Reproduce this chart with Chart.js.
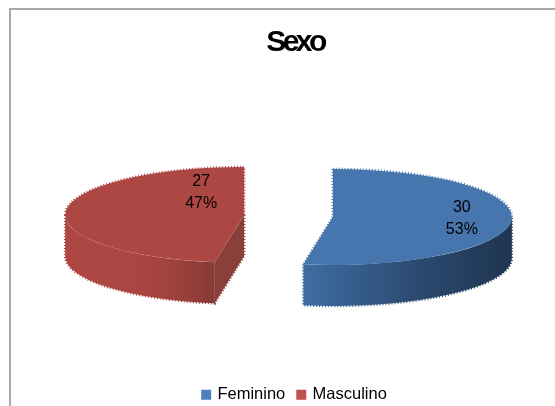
<!DOCTYPE html>
<html>
<head>
<meta charset="utf-8">
<title>Sexo</title>
<script src="https://cdn.jsdelivr.net/npm/chart.js@4"></script>
<style>
    html, body { margin: 0; padding: 0; background: #fff; overflow: hidden; }
    body { width: 555px; height: 406px; position: relative; }
    #box { position: absolute; left: 9px; top: 8px; width: 568px; height: 403px;
           border-left: 2px solid #a8a8a8; border-top: 2px solid #a8a8a8; }
</style>
</head>
<body>
<div id="box"><canvas id="sexoChart" width="568" height="403"></canvas></div>
<script>
const categories = ['Feminino', 'Masculino'];
const sexoValues = [30, 27];

// colours and pie geometry
const topColors = ['#4676ad', '#ad4744'];
const legendColors = ['#4f81bd', '#c0504d'];
const wallStops = [
    [[0, '#3f6ca1'], [0.55, '#2b4a70'], [1, '#1f3451']],
    [[0, '#ad4744'], [0.4, '#ad4744'], [0.65, '#a5433f'], [1, '#863a36']]
];
const innerWallColor = '#8a3f3a';
const PIE_RADIUS = 179;
const TILT = 0.268;       // vertical squash of the disc
const DEPTH = 41;         // height of the side wall
const EXPLODE = 44.5;     // how far each slice is pulled from the centre
const PIE_X = 277.5;      // where the pie centre lands on the canvas
const PIE_Y = 206;
const labelShift = [[129, 2], [-43, -22]];

// tip of a slice once it is pulled out along its middle angle
function sliceApex(el) {
    const half = (el.startAngle + el.endAngle) / 2;
    return {
        x: PIE_X + Math.cos(half) * EXPLODE,
        y: PIE_Y + Math.sin(half) * EXPLODE * TILT
    };
}

// rough dotted edge, only used on the outline of the shape
function jagged(ctx, color) {
    ctx.save();
    ctx.strokeStyle = color;
    ctx.lineWidth = 2.5;
    ctx.setLineDash([1, 2]);
    ctx.stroke();
    ctx.restore();
}

const pie3d = {
    id: 'pie3d',
    // walls first, then each arc element squashed and moved to its tip
    beforeDatasetDraw(chart) {
        const ctx = chart.ctx;
        const arcs = chart.getDatasetMeta(0).data;
        arcs.forEach((el, i) => {
            const p = sliceApex(el);
            const rx = el.outerRadius;
            const ry = rx * TILT;
            const a0 = Math.max(el.startAngle, 0);
            const a1 = Math.min(el.endAngle, Math.PI);

            // flat face on the cut side, only seen when the slice starts in front
            if (el.startAngle > 0 && el.startAngle < Math.PI) {
                const ex = p.x + Math.cos(el.startAngle) * rx;
                const ey = p.y + Math.sin(el.startAngle) * ry;
                ctx.beginPath();
                ctx.moveTo(p.x, p.y);
                ctx.lineTo(ex, ey);
                ctx.lineTo(ex, ey + DEPTH);
                ctx.lineTo(p.x, p.y + DEPTH);
                ctx.closePath();
                ctx.fillStyle = innerWallColor;
                ctx.fill();
                ctx.beginPath();
                ctx.moveTo(p.x, p.y);
                ctx.lineTo(p.x, p.y + DEPTH);
                ctx.lineTo(ex, ey + DEPTH);
                jagged(ctx, innerWallColor);
            }

            // curved outer wall
            const xa = p.x + Math.cos(a0) * rx;
            const xb = p.x + Math.cos(a1) * rx;
            const grad = ctx.createLinearGradient(Math.min(xa, xb), 0, Math.max(xa, xb), 0);
            wallStops[i].forEach(s => grad.addColorStop(s[0], s[1]));
            ctx.beginPath();
            ctx.ellipse(p.x, p.y, rx, ry, 0, a0, a1);
            ctx.ellipse(p.x, p.y + DEPTH, rx, ry, 0, a1, a0, true);
            ctx.closePath();
            ctx.fillStyle = grad;
            ctx.fill();
            ctx.beginPath();
            ctx.moveTo(xb, p.y + Math.sin(a1) * ry);
            ctx.ellipse(p.x, p.y + DEPTH, rx, ry, 0, a1, a0, true);
            ctx.lineTo(xa, p.y + Math.sin(a0) * ry);
            jagged(ctx, grad);

            ctx.save();
            ctx.translate(p.x, p.y);
            ctx.scale(1, TILT);
            ctx.translate(-el.x, -el.y);
            el.draw(ctx);
            ctx.restore();
        });
        return false;
    },
    afterDatasetsDraw(chart) {
        const ctx = chart.ctx;
        const arcs = chart.getDatasetMeta(0).data;
        const total = sexoValues.reduce((sum, v) => sum + v, 0);
        arcs.forEach((el, i) => {
            const p = sliceApex(el);
            const rx = el.outerRadius;
            const ry = rx * TILT;
            const rimX = a => p.x + Math.cos(a) * rx;
            const rimY = a => p.y + Math.sin(a) * ry;

            // rim behind the walls and the cut edges that face outwards
            ctx.beginPath();
            if (el.startAngle < 0) {
                ctx.ellipse(p.x, p.y, rx, ry, 0, el.startAngle, Math.min(el.endAngle, 0));
                ctx.moveTo(rimX(el.startAngle), rimY(el.startAngle));
                ctx.lineTo(p.x, p.y);
                ctx.lineTo(rimX(el.endAngle), rimY(el.endAngle));
            }
            if (el.endAngle > Math.PI) {
                ctx.moveTo(rimX(Math.max(el.startAngle, Math.PI)), rimY(Math.max(el.startAngle, Math.PI)));
                ctx.ellipse(p.x, p.y, rx, ry, 0, Math.max(el.startAngle, Math.PI), el.endAngle);
                ctx.lineTo(p.x, p.y);
            }
            jagged(ctx, topColors[i]);

            // value and share of each slice
            const lx = p.x + labelShift[i][0];
            const ly = p.y + labelShift[i][1];
            ctx.save();
            ctx.fillStyle = '#000';
            ctx.font = '16px "Liberation Sans", Arial, sans-serif';
            ctx.textAlign = 'center';
            ctx.textBaseline = 'middle';
            ctx.fillText(String(sexoValues[i]), lx, ly - 11);
            ctx.fillText(Math.round(sexoValues[i] / total * 100) + '%', lx, ly + 11);
            ctx.restore();
        });
    }
};

// the title is set very tight
const tightTitle = {
    id: 'tightTitle',
    afterInit(chart) {
        const drawTitle = chart.titleBlock.draw;
        chart.titleBlock.draw = function() {
            chart.ctx.save();
            chart.ctx.letterSpacing = '-3.5px';
            drawTitle.call(this);
            chart.ctx.restore();
        };
    }
};

new Chart(document.getElementById('sexoChart').getContext('2d'), {
    type: 'pie',
    data: {
        labels: categories,
        datasets: [{
            data: sexoValues,
            backgroundColor: topColors,
            borderWidth: 0,
            radius: PIE_RADIUS,
            clip: false
        }]
    },
    options: {
        responsive: false,
        animation: false,
        events: [],
        plugins: {
            tooltip: { enabled: false },
            title: {
                display: true,
                text: 'Sexo',
                color: '#000',
                font: { family: '"Liberation Sans", Arial, sans-serif', size: 30, weight: 'bold' },
                padding: { top: 15, bottom: 10 }
            },
            legend: {
                position: 'bottom',
                labels: {
                    // narrow box with a thick outline keeps the text close to the swatch
                    boxWidth: 6,
                    boxHeight: 6,
                    padding: 13,
                    color: '#000',
                    font: { family: '"Liberation Sans", Arial, sans-serif', size: 16.5 },
                    generateLabels: chart => categories.map((name, i) => ({
                        text: name,
                        fillStyle: legendColors[i],
                        strokeStyle: legendColors[i],
                        lineWidth: 4,
                        index: i
                    }))
                }
            }
        }
    },
    plugins: [pie3d, tightTitle]
});
</script>
</body>
</html>
